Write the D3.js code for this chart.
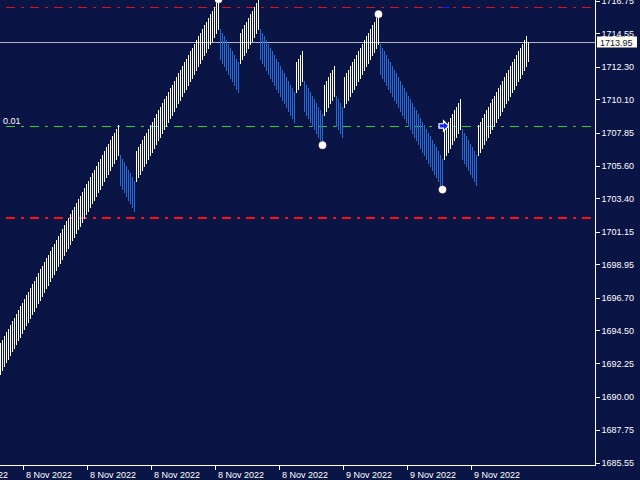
<!DOCTYPE html>
<html>
<head>
<meta charset="utf-8">
<script src="https://cdn.jsdelivr.net/npm/d3@7"></script>
<style>
  html, body { margin: 0; padding: 0; background: #0a1445; }
  svg { display: block; }
  text { font-family: "Liberation Sans", Arial, sans-serif; font-size: 9px; }
</style>
</head>
<body>
<svg id="chart" width="640" height="480"></svg>
<script>
// ---------------- DATA ----------------
// Bar opens (one per bar, left to right)
const opens = [
  // up run
  1691.5,1691.75,1692,1692.25,1692.5,1692.75,1693,1693.25,1693.5,1693.75,
  1694,1694.25,1694.5,1694.75,1695,1695.25,1695.5,1695.75,1696,1696.25,
  1696.5,1696.75,1697,1697.25,1697.5,1697.75,1698,1698.25,1698.5,1698.75,
  1699,1699.25,1699.5,1699.75,1700,1700.25,1700.5,1700.75,1701,1701.25,
  1701.5,1701.75,1702,1702.25,1702.5,1702.75,1703,1703.25,1703.5,1703.75,
  1704,1704.25,1704.5,1704.75,1705,1705.25,1705.5,1705.75,1706,1706.25,
  // down run
  1706.35,1706.1,1705.85,1705.6,1705.35,1705.1,1704.85,1704.6,
  // up run
  1704.5,1704.75,1705,1705.25,1705.5,1705.75,1706,1706.25,1706.5,1706.75,
  1707,1707.25,1707.5,1707.75,1708,1708.25,1708.5,1708.75,1709,1709.25,
  1709.5,1709.75,1710,1710.25,1710.5,1710.75,1711,1711.25,1711.5,1711.75,
  1712,1712.25,1712.5,1712.75,1713,1713.25,1713.5,1713.75,1714,1714.25,
  1714.5,1714.75,
  // down run
  1714.85,1714.6,1714.35,1714.1,1713.85,1713.6,1713.35,1713.1,1712.85,1712.6,
  // up run
  1712.5,1712.75,1713,1713.25,1713.5,1713.75,1714,1714.25,1714.5,1714.75,
  // down run
  1714.85,1714.6,1714.35,1714.1,1713.85,1713.6,1713.35,1713.1,1712.85,1712.6,
  1712.35,1712.1,1711.85,1711.6,1711.35,1711.1,1710.85,1710.6,
  // up run
  1710.5,1710.75,1711,1711.25,
  // down run
  1711.35,1711.1,1710.85,1710.6,1710.35,1710.1,1709.85,1709.6,1709.35,1709.1,
  // up run
  1709,1709.25,1709.5,1709.75,1710,1710.25,
  // down run
  1710.35,1710.1,1709.85,1709.6,
  // up run
  1709.5,1709.75,1710,1710.25,1710.5,1710.75,1711,1711.25,1711.5,1711.75,
  1712,1712.25,1712.5,1712.75,1713,1713.25,1713.5,1713.75,
  // down run
  1713.85,1713.6,1713.35,1713.1,1712.85,1712.6,1712.35,1712.1,1711.85,1711.6,
  1711.35,1711.1,1710.85,1710.6,1710.35,1710.1,1709.85,1709.6,1709.35,1709.1,
  1708.85,1708.6,1708.35,1708.1,1707.85,1707.6,1707.35,1707.1,1706.85,1706.6,
  1706.35,1706.1,
  // up run
  1706,1706.25,1706.5,1706.75,1707,1707.25,1707.5,1707.75,1708,
  // down run
  1708.1,1707.85,1707.6,1707.35,1707.1,1706.85,1706.6,1706.35,
  // up run
  1706.25,1706.5,1706.75,1707,1707.25,1707.5,1707.75,1708,1708.25,1708.5,
  1708.75,1709,1709.25,1709.5,1709.75,1710,1710.25,1710.5,1710.75,1711,
  1711.25,1711.5,1711.75,1712,1712.25,
  // current bar
  1712.6
];
// Bar closes (one per bar, left to right)
const closes = [
  1693.6,1693.85,1694.1,1694.35,1694.6,1694.85,1695.1,1695.35,1695.6,1695.85,
  1696.1,1696.35,1696.6,1696.85,1697.1,1697.35,1697.6,1697.85,1698.1,1698.35,
  1698.6,1698.85,1699.1,1699.35,1699.6,1699.85,1700.1,1700.35,1700.6,1700.85,
  1701.1,1701.35,1701.6,1701.85,1702.1,1702.35,1702.6,1702.85,1703.1,1703.35,
  1703.6,1703.85,1704.1,1704.35,1704.6,1704.85,1705.1,1705.35,1705.6,1705.85,
  1706.1,1706.35,1706.6,1706.85,1707.1,1707.35,1707.6,1707.85,1708.1,1708.35,
  1704.25,1704,1703.75,1703.5,1703.25,1703,1702.75,1702.5,
  1706.6,1706.85,1707.1,1707.35,1707.6,1707.85,1708.1,1708.35,1708.6,1708.85,
  1709.1,1709.35,1709.6,1709.85,1710.1,1710.35,1710.6,1710.85,1711.1,1711.35,
  1711.6,1711.85,1712.1,1712.35,1712.6,1712.85,1713.1,1713.35,1713.6,1713.85,
  1714.1,1714.35,1714.6,1714.85,1715.1,1715.35,1715.6,1715.85,1716.1,1716.35,
  1716.6,1716.85,
  1712.75,1712.5,1712.25,1712,1711.75,1711.5,1711.25,1711,1710.75,1710.5,
  1714.6,1714.85,1715.1,1715.35,1715.6,1715.85,1716.1,1716.35,1716.6,1716.85,
  1712.75,1712.5,1712.25,1712,1711.75,1711.5,1711.25,1711,1710.75,1710.5,
  1710.25,1710,1709.75,1709.5,1709.25,1709,1708.75,1708.5,
  1712.6,1712.85,1713.1,1713.35,
  1709.25,1709,1708.75,1708.5,1708.25,1708,1707.75,1707.5,1707.25,1707,
  1711.1,1711.35,1711.6,1711.85,1712.1,1712.35,
  1708.25,1708,1707.75,1707.5,
  1711.6,1711.85,1712.1,1712.35,1712.6,1712.85,1713.1,1713.35,1713.6,1713.85,
  1714.1,1714.35,1714.6,1714.85,1715.1,1715.35,1715.6,1715.85,
  1711.75,1711.5,1711.25,1711,1710.75,1710.5,1710.25,1710,1709.75,1709.5,
  1709.25,1709,1708.75,1708.5,1708.25,1708,1707.75,1707.5,1707.25,1707,
  1706.75,1706.5,1706.25,1706,1705.75,1705.5,1705.25,1705,1704.75,1704.5,
  1704.25,1704,
  1708.1,1708.35,1708.6,1708.85,1709.1,1709.35,1709.6,1709.85,1710.1,
  1706,1705.75,1705.5,1705.25,1705,1704.75,1704.5,1704.25,
  1708.35,1708.6,1708.85,1709.1,1709.35,1709.6,1709.85,1710.1,1710.35,1710.6,
  1710.85,1711.1,1711.35,1711.6,1711.85,1712.1,1712.35,1712.6,1712.85,1713.1,
  1713.35,1713.6,1713.85,1714.1,1714.35,
  1713.95
];

// Zigzag swing points (bar index, price)
const swingIdx   = [109, 161, 189, 221];
const swingPrice = [1716.85, 1707.0, 1715.85, 1704.0];

// Arrow marker
const arrowIdx = [222];
const arrowPrice = [1708.3];

// Horizontal levels
const levelPrices = [1716.34, 1708.28, 1702.06];
const levelColors = ["#e01010", "#2ecc2e", "#ff1010"];
const levelWidths = [1, 1, 2];
const currentPrice = 1713.95;
const levelLabel = "0.01";

// Axis ticks
const yTickValues = [1716.75,1714.55,1712.30,1710.10,1707.85,1705.60,1703.40,1701.15,1698.95,1696.70,1694.50,1692.25,1690.00,1687.75,1685.55];
const xTickIdx = [-21, 11, 43, 75, 107, 139, 171, 203, 235];
const xTickLabels = ["8 Nov 2022","8 Nov 2022","8 Nov 2022","8 Nov 2022","8 Nov 2022","8 Nov 2022","9 Nov 2022","9 Nov 2022","9 Nov 2022"];

// ---------------- DRAW ----------------
const W = 640, H = 480;
const plotW = 595, plotH = 465;
const bg = "#0a1445";
const upColor = "#ffffff";
const downColor = "#1b6fdc";

const svg = d3.select("#chart");
svg.append("rect").attr("width", W).attr("height", H).attr("fill", bg);

const x = d3.scaleLinear().domain([0, 1]).range([0, 2]); // 2px per bar
const y = d3.scaleLinear().domain([1685.39, 1716.81]).range([plotH, 0]);

svg.append("defs").append("clipPath").attr("id", "plot")
  .append("rect").attr("x", 0).attr("y", 0).attr("width", plotW).attr("height", plotH);

const plot = svg.append("g").attr("clip-path", "url(#plot)");

// dash-dot levels
const dash = "9,6,3,6";
plot.selectAll("line.level").data(levelPrices).join("line")
  .attr("class", "level")
  .attr("x1", 0).attr("x2", plotW)
  .attr("y1", (d, i) => Math.round(y(d)) + (levelWidths[i] % 2 ? 0.5 : 0))
  .attr("y2", (d, i) => Math.round(y(d)) + (levelWidths[i] % 2 ? 0.5 : 0))
  .attr("stroke", (d, i) => levelColors[i])
  .attr("stroke-width", (d, i) => levelWidths[i])
  .attr("stroke-dasharray", dash)
  .attr("stroke-dashoffset", 18)
  .attr("shape-rendering", "crispEdges");

// small blue segment on top level
plot.append("line")
  .attr("x1", x(221)).attr("x2", x(225))
  .attr("y1", Math.round(y(levelPrices[0])) + 0.5).attr("y2", Math.round(y(levelPrices[0])) + 0.5)
  .attr("stroke", "#1a1aff").attr("shape-rendering", "crispEdges");

// current price line
plot.append("line")
  .attr("x1", 0).attr("x2", plotW)
  .attr("y1", Math.round(y(currentPrice)) + 0.5).attr("y2", Math.round(y(currentPrice)) + 0.5)
  .attr("stroke", "#b0b4c0").attr("stroke-width", 1)
  .attr("shape-rendering", "crispEdges");

// bars
const bars = opens.map((o, i) => ({ i, o, c: closes[i] }));
plot.selectAll("rect.bar").data(bars).join("rect")
  .attr("class", "bar")
  .attr("x", d => x(d.i))
  .attr("width", 1)
  .attr("y", d => y(Math.max(d.o, d.c)))
  .attr("height", d => y(Math.min(d.o, d.c)) - y(Math.max(d.o, d.c)))
  .attr("fill", d => d.c >= d.o ? upColor : downColor)
  .attr("shape-rendering", "crispEdges");

// level label
plot.append("text").attr("x", 3).attr("y", y(levelPrices[1]) - 2.5)
  .attr("fill", "#ffffff").text(levelLabel);

// swing dots
plot.selectAll("circle.swing").data(swingIdx).join("circle")
  .attr("class", "swing")
  .attr("cx", d => x(d) + 0.5)
  .attr("cy", (d, i) => y(swingPrice[i]))
  .attr("r", 3.6)
  .attr("fill", "#ffffff")
  .attr("stroke", "#ffe2c4").attr("stroke-width", 0.6);

// arrow marker
plot.selectAll("path.arrow").data(arrowIdx).join("path")
  .attr("class", "arrow")
  .attr("transform", (d, i) => `translate(${x(d) - 0.5},${y(arrowPrice[i])})`)
  .attr("d", "M-4.5,-2.2 L0,-2.2 L0,-5.2 L5.2,0 L0,5.2 L0,2.2 L-4.5,2.2 Z")
  .attr("fill", "#1024ff")
  .attr("stroke", "#ffffff").attr("stroke-width", 1.2);

// axes frame
svg.append("line").attr("x1", plotW + 0.5).attr("x2", plotW + 0.5).attr("y1", 0).attr("y2", plotH + 0.5)
  .attr("stroke", "#ffffff").attr("shape-rendering", "crispEdges");
svg.append("line").attr("x1", 0).attr("x2", plotW + 0.5).attr("y1", plotH + 0.5).attr("y2", plotH + 0.5)
  .attr("stroke", "#ffffff").attr("shape-rendering", "crispEdges");

// y axis (right)
const yAxis = d3.axisRight(y).tickValues(yTickValues).tickSize(4).tickPadding(2)
  .tickFormat(d => d3.format(".2f")(d));
const gy = svg.append("g").attr("transform", `translate(${plotW + 0.5},0)`).call(yAxis);
gy.select(".domain").remove();
gy.selectAll("line").attr("stroke", "#ffffff").attr("shape-rendering", "crispEdges");
gy.selectAll("text").attr("fill", "#ffffff")
  .style("font-family", "'Liberation Sans', Arial, sans-serif").style("font-size", "9px");

// x axis (bottom)
const xAxis = d3.axisBottom(x).tickValues(xTickIdx).tickSize(4).tickPadding(2)
  .tickFormat((d, i) => xTickLabels[i]);
const gx = svg.append("g").attr("transform", `translate(0.5,${plotH + 0.5})`).call(xAxis);
gx.select(".domain").remove();
gx.selectAll("line").attr("stroke", "#ffffff").attr("shape-rendering", "crispEdges");
gx.selectAll("text").attr("fill", "#ffffff").attr("text-anchor", "start").attr("x", 3)
  .style("font-family", "'Liberation Sans', Arial, sans-serif").style("font-size", "9px");

// current price tag
const cy = Math.round(y(currentPrice)) + 0.5;
svg.append("rect").attr("x", 597).attr("y", cy - 6).attr("width", 40).attr("height", 11)
  .attr("fill", "#fffdf0");
svg.append("text").attr("x", 600).attr("y", cy).attr("dy", "0.35em")
  .attr("fill", "#0a1445").text(d3.format(".2f")(currentPrice));
</script>
</body>
</html>
